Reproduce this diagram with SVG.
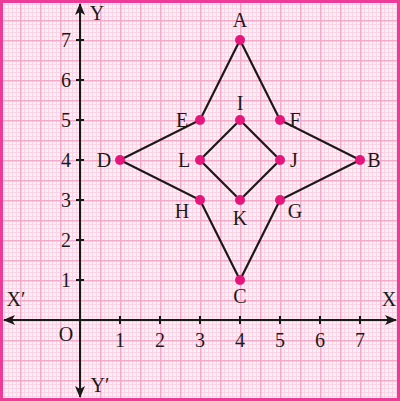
<svg xmlns="http://www.w3.org/2000/svg" width="400" height="401" viewBox="0 0 400 401">
<defs>
<pattern id="grid" patternUnits="userSpaceOnUse" width="20" height="20">
<rect width="20" height="20" fill="#fdf0f5"/>
<path d="M4.5 0V20M8.5 0V20M12.5 0V20M16.5 0V20M0 4.5H20M0 8.5H20M0 12.5H20M0 16.5H20" stroke="#fad3e4" stroke-width="1" fill="none"/>
<path d="M0.75 0V20M0 0.75H20" stroke="#f5a9c9" stroke-width="1.5" fill="none"/>
</pattern>
<marker id="arr" viewBox="0 0 12 10" refX="11" refY="5" markerWidth="12" markerHeight="10" markerUnits="userSpaceOnUse" orient="auto">
<path d="M0 0L12 5L0 10L3 5Z" fill="#1a1a1a"/>
</marker>
<style>
.t{font-family:"Liberation Serif","DejaVu Serif",serif;font-size:20px;fill:#1a1a1a;text-anchor:middle}
.ax{stroke:#1a1a1a;stroke-width:2;fill:none}
.sh{stroke:#1a1a1a;stroke-width:2.2;fill:none;stroke-linejoin:miter}
.pt{fill:#e6157c}
</style>
</defs>
<rect width="400" height="401" fill="url(#grid)"/>
<rect x="1.5" y="1.5" width="397" height="398" fill="none" stroke="#ec3c98" stroke-width="3"/>
<g id="axes">
<line class="ax" x1="80" y1="320" x2="396" y2="320" marker-end="url(#arr)"/>
<line class="ax" x1="80" y1="320" x2="4" y2="320" marker-end="url(#arr)"/>
<line class="ax" x1="80" y1="320" x2="80" y2="4" marker-end="url(#arr)"/>
<line class="ax" x1="80" y1="320" x2="80" y2="397" marker-end="url(#arr)"/>
<path class="ax" d="M120 316V324M160 316V324M200 316V324M240 316V324M280 316V324M320 316V324M360 316V324M76 280H84M76 240H84M76 200H84M76 160H84M76 120H84M76 80H84M76 40H84"/>
<text class="t" x="120" y="347">1</text>
<text class="t" x="160" y="347">2</text>
<text class="t" x="200" y="347">3</text>
<text class="t" x="240" y="347">4</text>
<text class="t" x="280" y="347">5</text>
<text class="t" x="320" y="347">6</text>
<text class="t" x="360" y="347">7</text>
<text class="t" x="66" y="287">1</text>
<text class="t" x="66" y="247">2</text>
<text class="t" x="66" y="207">3</text>
<text class="t" x="66" y="167">4</text>
<text class="t" x="66" y="127">5</text>
<text class="t" x="66" y="87">6</text>
<text class="t" x="66" y="47">7</text>
<text class="t" x="66" y="341">O</text>
<text class="t" x="16" y="306">X′</text>
<text class="t" x="389" y="306">X</text>
<text class="t" x="97" y="20">Y</text>
<text class="t" x="100" y="392">Y′</text>
</g>
<g id="connectors">
<path class="sh" d="M240 40L280 120L360 160L280 200L240 280L200 200L120 160L200 120Z"/>
<path class="sh" d="M240 120L280 160L240 200L200 160Z"/>
</g>
<g id="A"><circle class="pt" cx="240" cy="40" r="5"/><text class="t" x="240" y="27">A</text></g>
<g id="B"><circle class="pt" cx="360" cy="160" r="5"/><text class="t" x="374" y="167">B</text></g>
<g id="C"><circle class="pt" cx="240" cy="280" r="5"/><text class="t" x="240" y="303">C</text></g>
<g id="D"><circle class="pt" cx="120" cy="160" r="5"/><text class="t" x="104" y="167">D</text></g>
<g id="E"><circle class="pt" cx="200" cy="120" r="5"/><text class="t" x="182" y="127">E</text></g>
<g id="F"><circle class="pt" cx="280" cy="120" r="5"/><text class="t" x="295" y="127">F</text></g>
<g id="G"><circle class="pt" cx="280" cy="200" r="5"/><text class="t" x="295" y="218">G</text></g>
<g id="H"><circle class="pt" cx="200" cy="200" r="5"/><text class="t" x="182" y="218">H</text></g>
<g id="I"><circle class="pt" cx="240" cy="120" r="5"/><text class="t" x="240" y="110">I</text></g>
<g id="J"><circle class="pt" cx="280" cy="160" r="5"/><text class="t" x="294" y="167">J</text></g>
<g id="K"><circle class="pt" cx="240" cy="200" r="5"/><text class="t" x="240" y="225">K</text></g>
<g id="L"><circle class="pt" cx="200" cy="160" r="5"/><text class="t" x="184" y="167">L</text></g>
</svg>
